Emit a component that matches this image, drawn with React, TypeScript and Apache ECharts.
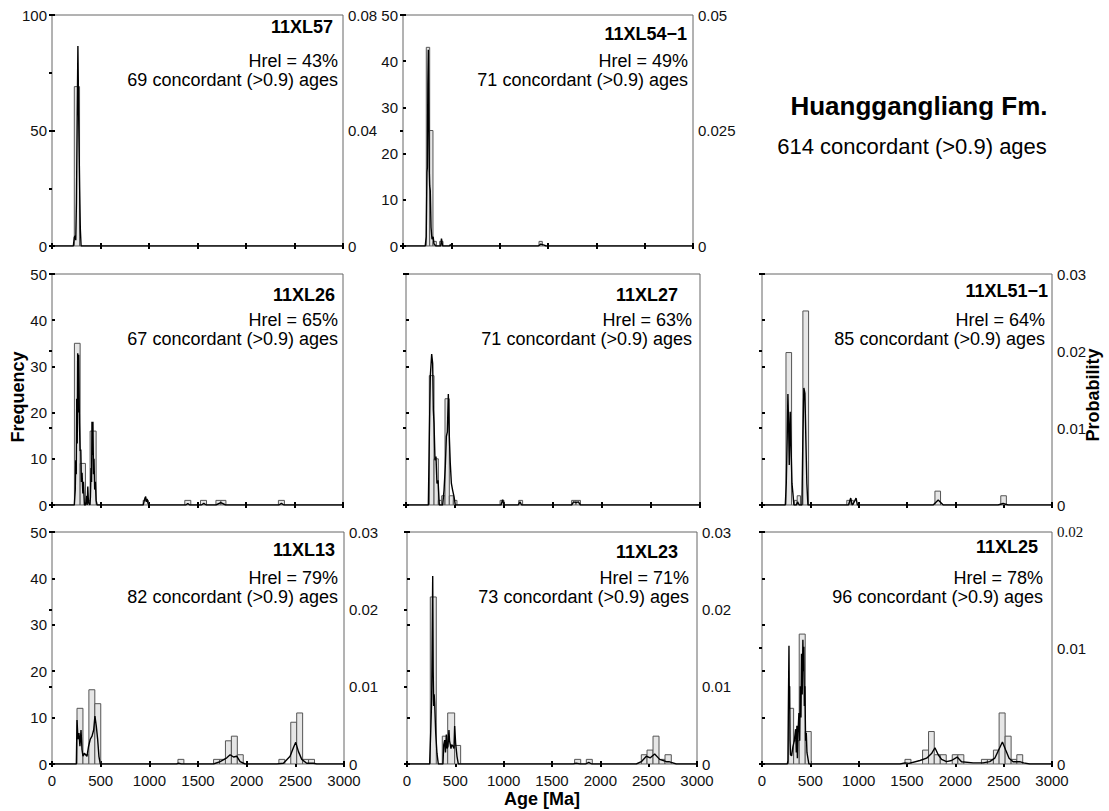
import React, { useEffect, useRef } from 'react';
import * as echarts from 'echarts';

// ---------- data ----------
const sampleNames = ['11XL57', '11XL54\u22121', '11XL26', '11XL27', '11XL51\u22121', '11XL13', '11XL23', '11XL25'];
const hrelValues = [43, 49, 65, 63, 64, 79, 71, 78];
const concordantCounts = [69, 71, 67, 71, 85, 82, 73, 96];
const freqMax = [100, 50, 50, 50, 50, 50, 50, 50];
const freqStep = [50, 10, 10, 10, 10, 10, 10, 10];
const probMax = [0.08, 0.05, 0.03, 0.03, 0.03, 0.03, 0.03, 0.02];
const probStep = [0.02, 0.025, 0.01, 0.01, 0.01, 0.01, 0.01, 0.01];
const ageMin = 0;
const ageMax = 3000;
const ageStep = 500;
const totalTitle = 'Huanggangliang Fm.';
const totalSubtitle = '614 concordant (>0.9) ages';

// histogram bins: [from age, to age, count]
const bars57 = [[230, 284, 69]];
const bars54 = [[241, 276, 43], [276, 310, 25], [310, 345, 1], [379, 414, 1], [1407, 1441, 1]];
const bars26 = [[231, 290, 35], [290, 345, 9], [345, 393, 1], [393, 455, 16], [940, 995, 1], [1369, 1431, 1], [1531, 1593, 1], [1690, 1741, 1], [1741, 1793, 1], [2334, 2396, 1]];
const bars27 = [[238, 286, 28], [286, 330, 10], [330, 364, 1], [364, 398, 2], [398, 442, 23], [442, 483, 2], [483, 520, 1], [960, 1000, 1], [1150, 1190, 1], [1690, 1735, 1], [1735, 1780, 1]];
const bars51 = [[248, 306, 33], [334, 364, 1], [364, 398, 2], [423, 482, 42], [877, 911, 1], [911, 946, 1], [1789, 1847, 3], [2470, 2528, 2]];
const bars13 = [[257, 318, 12], [318, 379, 2], [379, 440, 16], [440, 501, 13], [1294, 1355, 1], [1660, 1721, 1], [1721, 1782, 1], [1782, 1843, 5], [1843, 1904, 6], [1904, 1965, 2], [2331, 2392, 1], [2453, 2514, 9], [2514, 2575, 11], [2575, 2636, 1], [2636, 2697, 1]];
const bars23 = [[241, 303, 36], [365, 421, 6], [421, 493, 11], [493, 555, 4], [1734, 1797, 1], [1855, 1917, 1], [2424, 2483, 2], [2483, 2545, 3], [2545, 2607, 6], [2607, 2669, 1], [2669, 2734, 2]];
const bars25 = [[275, 327, 12], [327, 385, 5], [385, 447, 28], [447, 509, 7], [1479, 1541, 1], [1661, 1723, 3], [1723, 1782, 7], [1782, 1844, 2], [1844, 1906, 2], [1968, 2026, 2], [2026, 2088, 2], [2270, 2332, 1], [2332, 2394, 1], [2394, 2453, 3], [2453, 2515, 11], [2515, 2577, 6], [2577, 2636, 1], [2636, 2697, 2]];

// probability density curves: [age, probability]
const pdp57 = [[0, 0], [220, 0], [230, 0.003], [238, 0.0035], [245, 0.002], [252, 0.015], [260, 0.045], [267, 0.0693], [275, 0.045], [285, 0.02], [292, 0.006], [300, 0], [3000, 0]];
const pdp54 = [[0, 0], [230, 0], [240, 0.002], [248, 0.016], [252, 0.017], [257, 0.035], [262, 0.0425], [267, 0.03], [272, 0.016], [276, 0.013], [282, 0.012], [290, 0.004], [300, 0.0015], [312, 0.002], [320, 0.0005], [340, 0], [390, 0], [398, 0.0016], [410, 0], [480, 0], [490, 0.0003], [500, 0], [1400, 0], [1425, 0.0004], [1460, 0.0002], [1480, 0], [3000, 0]];
const pdp26 = [[0, 0], [230, 0], [240, 0.002], [245, 0.0058], [250, 0.004], [255, 0.0138], [260, 0.008], [265, 0.0197], [270, 0.012], [275, 0.0195], [283, 0.0106], [290, 0.007], [297, 0.0072], [303, 0.003], [310, 0.0042], [318, 0.0015], [324, 0.003], [334, 0], [345, 0], [352, 0.0005], [359, 0.0012], [363, 0], [369, 0.0024], [376, 0.0003], [390, 0], [396, 0.001], [403, 0.0048], [408, 0.003], [412, 0.0108], [417, 0.0065], [422, 0.0108], [428, 0.004], [433, 0.006], [440, 0.002], [447, 0.003], [455, 0.0006], [465, 0], [940, 0], [958, 0.0009], [966, 0.0011], [972, 0.0004], [980, 0.0008], [990, 0.0002], [1000, 0], [1380, 0], [1400, 0.0002], [1420, 0], [1540, 0], [1565, 0.0002], [1590, 0], [1690, 0], [1740, 0.0003], [1790, 0], [2340, 0], [2365, 0.0002], [2390, 0], [3000, 0]];
const pdp27 = [[0, 0], [228, 0], [238, 0.0089], [248, 0.0167], [262, 0.0196], [272, 0.0184], [279, 0.0123], [286, 0.0106], [296, 0.0058], [306, 0.0063], [316, 0.0028], [327, 0.0032], [340, 0], [374, 0], [388, 0.0019], [401, 0.005], [412, 0.0089], [422, 0.0095], [432, 0.0144], [442, 0.0089], [452, 0.0054], [463, 0.0028], [476, 0.0019], [490, 0.0011], [503, 0], [970, 0], [986, 0.0007], [1000, 0], [1145, 0], [1163, 0.0004], [1180, 0], [1690, 0], [1710, 0.0004], [1735, 0.0003], [1759, 0.0004], [1780, 0], [3000, 0]];
const pdp51 = [[0, 0], [241, 0], [251, 0.0028], [261, 0.0089], [268, 0.0144], [275, 0.0106], [282, 0.0052], [292, 0.0121], [303, 0.0063], [310, 0.0028], [320, 0.0015], [330, 0], [355, 0], [368, 0.0004], [385, 0], [413, 0], [423, 0.0089], [433, 0.0152], [444, 0.0145], [454, 0.0084], [464, 0.0028], [475, 0], [894, 0], [918, 0.0009], [932, 0], [946, 0.0002], [973, 0.0009], [987, 0], [1771, 0], [1823, 0.00065], [1875, 0], [2442, 0], [2494, 0.0002], [2546, 0], [3000, 0]];
const pdp13 = [[0, 0], [250, 0], [257, 0.0057], [267, 0.0032], [277, 0.004], [287, 0.0023], [298, 0.0044], [308, 0.0019], [318, 0.001], [332, 0.0014], [346, 0.0012], [359, 0.001], [376, 0.0023], [393, 0.0032], [411, 0.0036], [428, 0.0044], [441, 0.0062], [455, 0.0049], [469, 0.0032], [482, 0.001], [496, 0], [1280, 0], [1300, 0.0001], [1330, 0], [1659, 0], [1728, 0.0003], [1796, 0.0008], [1830, 0.0012], [1865, 0.0009], [1899, 0.001], [1933, 0.0003], [1984, 0], [2309, 0], [2378, 0.0001], [2446, 0.001], [2480, 0.0021], [2504, 0.0028], [2532, 0.0016], [2566, 0.0006], [2617, 0.0001], [2686, 0.0001], [2720, 0], [3000, 0]];
const pdp23 = [[0, 0], [234, 0], [245, 0.004], [255, 0.0083], [260, 0.015], [266, 0.0243], [271, 0.012], [276, 0.0075], [281, 0.009], [286, 0.0079], [297, 0.004], [310, 0.0014], [324, 0], [372, 0], [380, 0.0025], [390, 0.0031], [398, 0.0015], [407, 0.0038], [415, 0.002], [424, 0.0023], [434, 0.0044], [440, 0.003], [448, 0.0025], [455, 0.002], [462, 0.0025], [476, 0.0023], [486, 0.002], [493, 0.0049], [503, 0.0027], [517, 0.001], [531, 0], [1720, 0], [1750, 0.0001], [1790, 0], [1850, 0], [1880, 0.0002], [1910, 0], [2372, 0], [2424, 0.0003], [2476, 0.001], [2517, 0.0008], [2562, 0.0013], [2614, 0.0006], [2683, 0.0003], [2710, 0.0003], [2734, 0.0002], [2786, 0], [3000, 0]];
const pdp25 = [[0, 0], [262, 0], [268, 0.0003], [272, 0.004], [279, 0.0102], [283, 0.005], [286, 0.0067], [290, 0.002], [295, 0.0008], [306, 0.0007], [320, 0.0015], [334, 0.002], [348, 0.003], [355, 0.001], [361, 0.0033], [366, 0.0005], [372, 0.0027], [382, 0.0044], [390, 0.002], [396, 0.0067], [403, 0.004], [409, 0.0095], [416, 0.006], [423, 0.0107], [428, 0.008], [433, 0.0101], [438, 0.005], [444, 0.0067], [451, 0.002], [458, 0.0027], [465, 0.001], [471, 0.001], [485, 0], [1428, 0], [1479, 0.0001], [1520, 0.00005], [1634, 0.0003], [1703, 0.0005], [1754, 0.0009], [1789, 0.0014], [1823, 0.0008], [1858, 0.0004], [1909, 0.0002], [1961, 0.0003], [2019, 0.0006], [2064, 0.0002], [2184, 0.0001], [2287, 0.0001], [2356, 0.0002], [2408, 0.0005], [2442, 0.0011], [2487, 0.0019], [2521, 0.0012], [2556, 0.0005], [2597, 0.0002], [2666, 0.0002], [2707, 0.0001], [2769, 0], [3000, 0]];

const barSets = [bars57, bars54, bars26, bars27, bars51, bars13, bars23, bars25];
const pdpSets = [pdp57, pdp54, pdp26, pdp27, pdp51, pdp13, pdp23, pdp25];

// ---------- layout (pixels) ----------
const layout = [
  { l: 52, t: 15, r: 343, b: 246, ndx: 10, ndy: 12, idx: 5, lbl: true, rbl: true, xbl: false },
  { l: 403, t: 15, r: 693, b: 246, ndx: 6, ndy: 19, idx: 5, lbl: true, rbl: true, xbl: false },
  { l: 52, t: 274, r: 343, b: 505, ndx: 8, ndy: 21, idx: 5, lbl: true, rbl: false, xbl: false },
  { l: 406, t: 274, r: 700, b: 505, ndx: 22, ndy: 21, idx: 8, lbl: false, rbl: false, xbl: false },
  { l: 762, t: 274, r: 1052, b: 505, ndx: 4, ndy: 17, idx: 7, lbl: false, rbl: true, xbl: false },
  { l: 52, t: 532, r: 344, b: 764, ndx: 9, ndy: 18, idx: 6, lbl: true, rbl: true, xbl: true },
  { l: 407, t: 532, r: 697, b: 764, ndx: 19, ndy: 20, idx: 8, lbl: false, rbl: true, xbl: true },
  { l: 762, t: 532, r: 1052, b: 764, ndx: 14, ndy: 15, idx: 9, lbl: false, rbl: true, xbl: true },
];

const FONT = '"Liberation Sans", Arial, Helvetica, sans-serif';
const SERIF = '"Liberation Serif", "Times New Roman", serif';

function fmtNum(v: number) {
  return String(parseFloat(v.toFixed(4)));
}

function buildOption() {
  const grids: any[] = [];
  const xAxes: any[] = [];
  const yAxes: any[] = [];
  const series: any[] = [];
  const graphics: any[] = [];
  const tick = { show: true, inside: true, length: 3, lineStyle: { color: '#000', width: 2 } };
  const labelBase = { fontFamily: FONT, fontSize: 15, color: '#111' };

  layout.forEach((p, i) => {
    grids.push({
      left: p.l, top: p.t, width: p.r - p.l, height: p.b - p.t,
      show: true, borderColor: '#666', borderWidth: 1, backgroundColor: '#fff',
      containLabel: false,
    });
    // bottom x
    xAxes.push({
      type: 'value', gridIndex: i, position: 'bottom', min: ageMin, max: ageMax, interval: ageStep,
      axisLine: { show: false }, axisTick: tick, splitLine: { show: false },
      axisLabel: { show: p.xbl, margin: 9, ...labelBase, formatter: (v: number) => String(Math.round(v)) },
    });
    // top x
    xAxes.push({
      type: 'value', gridIndex: i, position: 'top', min: ageMin, max: ageMax, interval: ageStep,
      axisLine: { show: false }, axisTick: tick, splitLine: { show: false },
      axisLabel: { show: false },
    });
    // left y (frequency)
    yAxes.push({
      type: 'value', gridIndex: i, position: 'left', min: 0, max: freqMax[i], interval: freqStep[i],
      axisLine: { show: false }, axisTick: tick, splitLine: { show: false },
      axisLabel: { show: p.lbl, margin: 5, ...labelBase, formatter: (v: number) => String(Math.round(v)) },
    });
    // right y (probability)
    const pm = probMax[i];
    yAxes.push({
      type: 'value', gridIndex: i, position: 'right', min: 0, max: pm, interval: probStep[i],
      axisLine: { show: false }, axisTick: tick, splitLine: { show: false },
      axisLabel: {
        show: p.rbl, margin: 5, ...labelBase,
        formatter: (v: number) => {
          if (i === 0) {
            return Math.round(v * 100) % 4 === 0 ? fmtNum(v) : '';
          }
          if (i === 7 && Math.abs(v - pm) < 1e-9) return '{serif|' + fmtNum(v) + '}';
          return fmtNum(v);
        },
        rich: { serif: { fontFamily: SERIF, fontSize: 15, color: '#111' } },
      },
    });

    series.push({
      type: 'custom',
      xAxisIndex: i * 2, yAxisIndex: i * 2,
      data: barSets[i],
      encode: { x: [0, 1], y: 2 },
      z: 2,
      clip: true,
      renderItem: (params: any, api: any) => {
        const a = api.value(0), b = api.value(1), c = api.value(2);
        const p0 = api.coord([a, 0]);
        const p1 = api.coord([b, c]);
        return {
          type: 'rect',
          shape: { x: p0[0], y: p1[1], width: p1[0] - p0[0], height: p0[1] - p1[1] },
          style: { fill: '#e6e6e6', stroke: '#555', lineWidth: 1 },
        };
      },
    });
    series.push({
      type: 'line',
      xAxisIndex: i * 2, yAxisIndex: i * 2 + 1,
      data: pdpSets[i],
      showSymbol: false, symbol: 'none',
      lineStyle: { color: '#000', width: 1.4 },
      z: 3,
      clip: true,
    });

    graphics.push({
      type: 'text', x: p.r - p.ndx, y: p.t + p.ndy, z: 10,
      style: { text: sampleNames[i], fontFamily: FONT, fontSize: 18, fontWeight: 'bold', fill: '#000', align: 'right', verticalAlign: 'middle' },
    });
    graphics.push({
      type: 'text', x: p.r - p.idx, y: p.t + 46, z: 10,
      style: { text: 'Hrel = ' + hrelValues[i] + '%', fontFamily: FONT, fontSize: 18, fill: '#000', align: 'right', verticalAlign: 'middle' },
    });
    graphics.push({
      type: 'text', x: p.r - p.idx, y: p.t + 65, z: 10,
      style: { text: concordantCounts[i] + ' concordant (>0.9) ages', fontFamily: FONT, fontSize: 18, fill: '#000', align: 'right', verticalAlign: 'middle' },
    });
  });

  graphics.push({
    type: 'text', x: 919, y: 106,
    style: { text: totalTitle, fontFamily: FONT, fontSize: 26, fontWeight: 'bold', fill: '#000', align: 'center', verticalAlign: 'middle' },
  });
  graphics.push({
    type: 'text', x: 912, y: 146,
    style: { text: totalSubtitle, fontFamily: FONT, fontSize: 22, fill: '#000', align: 'center', verticalAlign: 'middle' },
  });
  graphics.push({
    type: 'text', x: 18, y: 397, rotation: Math.PI / 2,
    style: { text: 'Frequency', fontFamily: FONT, fontSize: 18, fontWeight: 'bold', fill: '#000', align: 'center', verticalAlign: 'middle' },
  });
  graphics.push({
    type: 'text', x: 1093, y: 395, rotation: Math.PI / 2,
    style: { text: 'Probability', fontFamily: FONT, fontSize: 18, fontWeight: 'bold', fill: '#000', align: 'center', verticalAlign: 'middle' },
  });
  graphics.push({
    type: 'text', x: 542, y: 799,
    style: { text: 'Age [Ma]', fontFamily: FONT, fontSize: 18, fontWeight: 'bold', fill: '#000', align: 'center', verticalAlign: 'middle' },
  });

  return {
    animation: false,
    backgroundColor: '#fff',
    grid: grids,
    xAxis: xAxes,
    yAxis: yAxes,
    series,
    graphic: graphics,
  };
}

export default function App() {
  const ref = useRef<HTMLDivElement>(null);
  useEffect(() => {
    if (!ref.current) return;
    const chart = echarts.init(ref.current, undefined, { renderer: 'svg' });
    chart.setOption(buildOption() as any);
    return () => chart.dispose();
  }, []);
  return (
    <div
      ref={ref}
      style={{ position: 'absolute', left: 0, top: 0, width: 1109, height: 811, background: '#fff' }}
    />
  );
}
